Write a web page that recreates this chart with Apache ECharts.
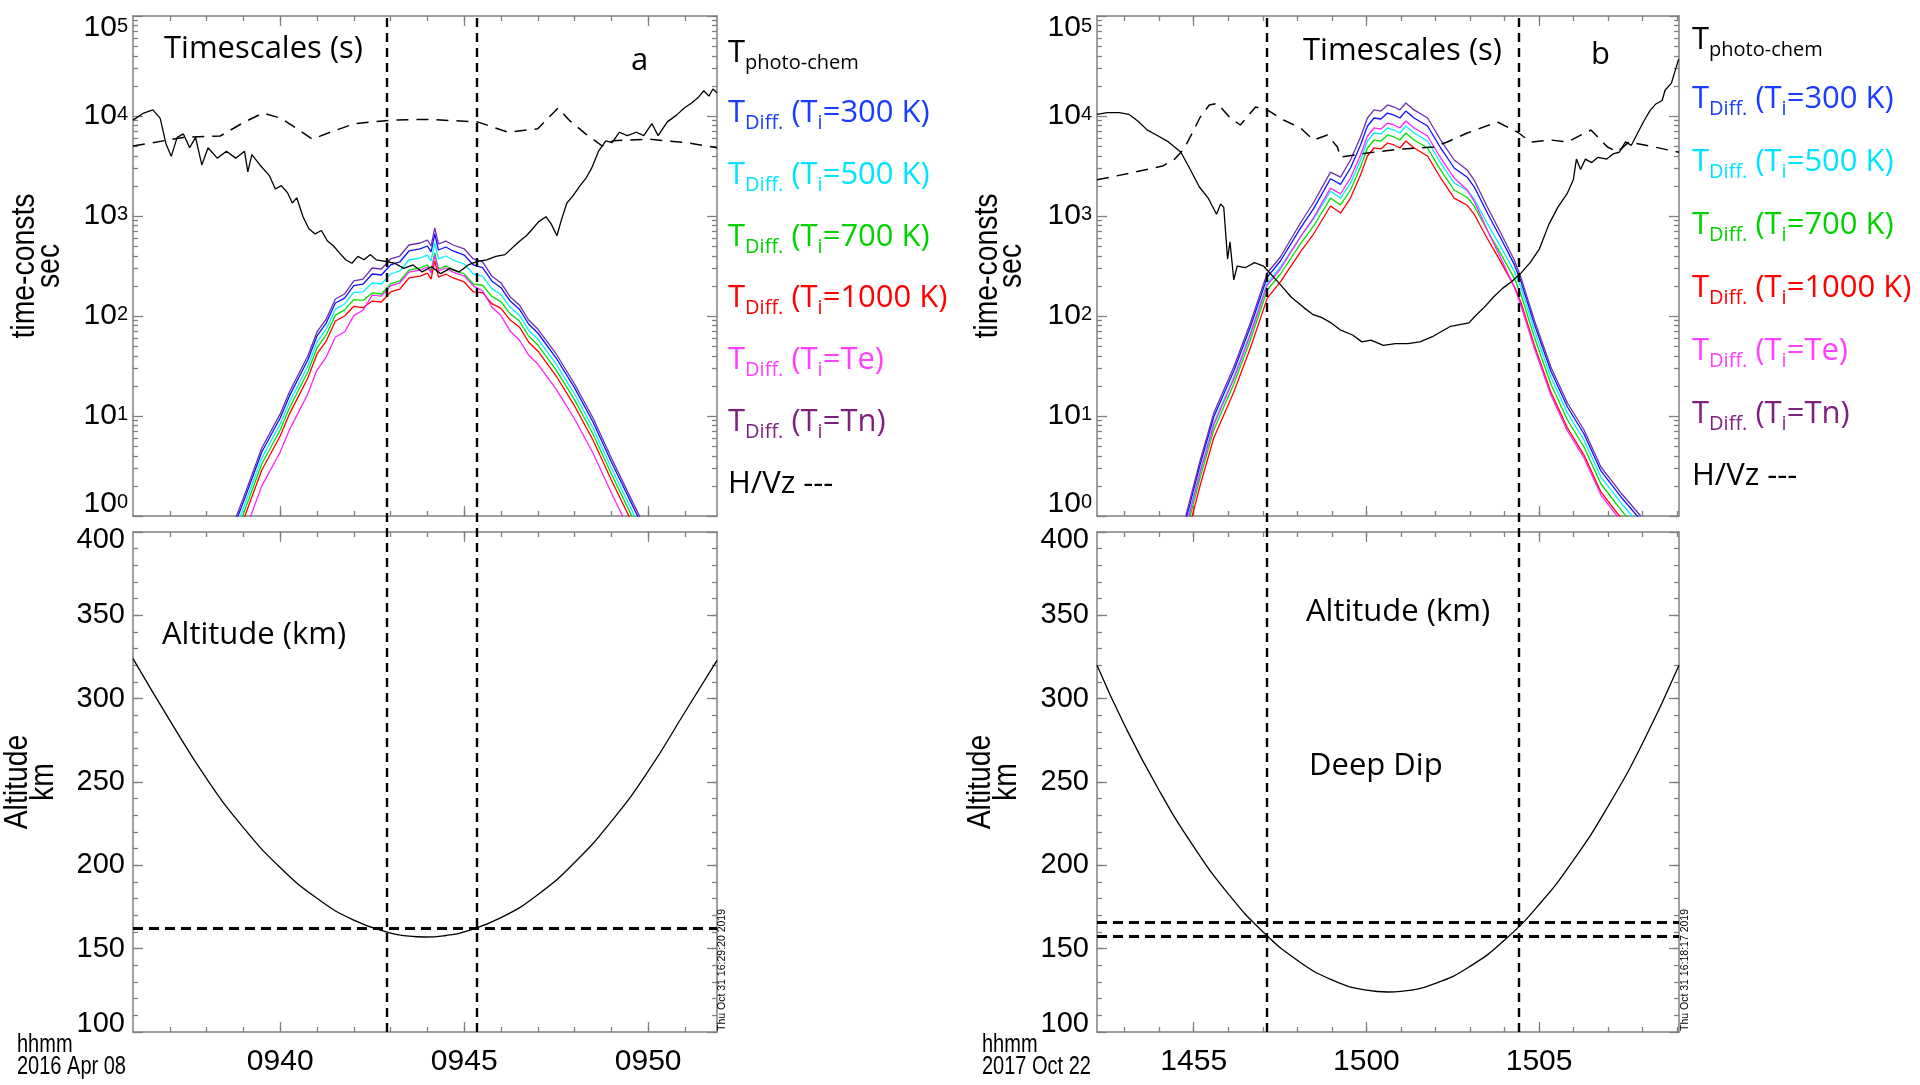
<!DOCTYPE html>
<html><head><meta charset="utf-8">
<script src="https://cdn.jsdelivr.net/npm/echarts@6/dist/echarts.min.js"></script>
<style>html,body{margin:0;padding:0;background:#fff;}#c{width:1920px;height:1085px;}</style>
</head><body><div id="c"></div>
<script>
// ---------------- DATA (time in minutes of day) ----------------
// Panel a (2016 Apr 08)
const aRange = [576.0, 591.87];
const aMinorTicks = [577,578,579,580,581,582,583,584,585,586,587,588,589,590,591];
const aMajorTicks = [580,585,590];
const aPhotoTimes = [576.00,576.29,576.54,576.74,576.90,577.04,577.20,577.37,577.54,577.70,577.87,578.04,578.29,578.54,578.79,579.03,579.12,579.23,579.45,579.70,579.87,580.03,580.20,580.33,580.45,580.62,580.78,580.95,581.12,581.28,581.45,581.61,581.78,581.95,582.11,582.28,582.45,582.61,582.86,583.11,583.36,583.61,583.86,584.11,584.36,584.61,584.86,585.11,585.36,585.61,585.86,586.11,586.36,586.52,586.69,586.86,587.02,587.22,587.36,587.52,587.64,587.79,587.95,588.15,588.30,588.46,588.65,588.85,589.02,589.22,589.43,589.68,589.88,590.10,590.27,590.52,590.77,590.98,591.18,591.35,591.51,591.65,591.76,591.87];
const aPhoto = [9100,10700,11500,9460,5210,3950,6110,6620,4820,6110,3240,4820,3790,4450,3790,4450,2760,4110,3240,2550,1860,2010,1710,1350,1520,984,745,662,716,565,501,428,365,337,395,365,411,365,351,337,299,324,276,311,265,299,276,324,351,365,395,411,501,565,635,745,873,984,839,635,910,1350,1580,2010,2360,2990,4450,5650,5420,6880,6360,6880,6360,8400,6360,8730,10200,12000,13500,15200,17900,15800,18600,17100];
const aHVzTimes = [576.00,577.37,578.37,579.03,579.53,580.03,580.53,580.87,581.36,582.03,583.03,584.02,585.36,586.19,587.0,587.55,587.85,588.3,588.75,589.05,590.02,591.02,591.87];
const aHVz = [5010,6110,6310,8710,10700,9460,7160,5870,6880,8400,9100,9250,8730,6880,7450,12000,9100,6620,5010,5650,5870,5420,4820];
const aDiffTimes = [578.6,579.0,579.5,580.0,580.25,580.5,580.75,581.0,581.25,581.5,581.75,582.0,582.25,582.5,582.75,583.0,583.25,583.5,583.8,584.0,584.1,584.2,584.3,584.5,584.7,585.0,585.25,585.5,585.75,586.0,586.25,586.5,586.75,587.0,587.5,588.0,588.5,589.0,589.5,589.9];
const aDiffTn   = [0.63,1.51,4.79,10.5,17.4,26.3,39.8,69.2,93.3,148,166,224,234,302,295,372,398,513,537,575,501,759,525,562,513,468,372,347,251,214,155,129,91.2,74.1,41.7,20.9,9.55,3.8,1.58,0.79];
const aDiff300  = [0.575,1.38,4.37,9.55,15.8,24.0,36.3,63.1,85.1,135,151,201,208,263,257,324,347,447,468,501,437,661,457,490,447,407,324,305,224,192,141,117,83.2,67.6,38.0,19.1,8.71,3.47,1.45,0.72];
const aDiff500  = [0.5,1.2,3.8,8.32,13.8,20.9,31.6,55.0,74.1,117,132,172,174,214,209,263,282,363,380,407,355,537,372,398,363,331,263,251,188,164,122,102,72.4,58.9,33.1,16.6,7.59,3.02,1.26,0.63];
const aDiff700  = [0.437,1.05,3.31,7.24,12.0,18.2,27.5,47.9,64.6,102,115,146,143,170,166,209,224,288,302,324,282,427,295,316,288,263,209,203,157,139,105,89.1,63.1,51.3,28.8,14.5,6.61,2.63,1.1,0.55];
const aDiff1000 = [0.38,0.912,2.88,6.31,10.5,15.8,24.0,41.7,56.2,89.1,100,125,121,141,138,174,186,240,251,269,234,355,245,263,240,219,174,171,133,119,91.0,77.6,55.0,44.7,25.1,12.6,5.75,2.29,0.955,0.48];
const aDiffTe   = [0.263,0.63,2.0,4.37,7.24,11.0,16.6,28.8,38.9,61.7,69.2,101,114,162,158,200,214,275,288,309,269,407,282,302,275,251,200,179,123,101,70.5,57.5,40.7,33.1,18.6,9.33,4.27,1.7,0.71,0.355];
const aAltTimes = [576.0,577,578,579,580,581,582,583,583.5,583.93,584.5,585,586,587,588,589,590,591,591.87];
const aAlt = [324,287,252,222.6,198.7,180.2,167.1,159.3,157.5,157,157.9,160.1,168.6,182.4,201.7,226.4,256.5,292,323];
const aVLines = [582.9, 585.34];
const aHLines = [162];

// Panel b (2017 Oct 22)
const bRange = [892.2, 909.05];
const bMinorTicks = [893,894,895,896,897,898,899,900,901,902,903,904,905,906,907,908,909];
const bMajorTicks = [895,900,905];
const bPhotoTimes = [892.2,892.5,892.85,893.12,893.39,893.65,893.92,894.27,894.63,894.9,895.16,895.43,895.66,895.78,895.87,895.98,896.05,896.16,896.26,896.49,896.76,897.02,897.2,897.47,897.82,898.18,898.44,898.71,898.98,899.24,899.6,899.87,900.13,900.49,900.84,901.2,901.55,901.91,902.17,902.44,902.7,902.97,903.15,903.41,903.68,903.94,904.21,904.48,904.74,905.01,905.28,905.54,905.81,905.99,906.08,906.2,906.34,906.52,906.7,906.96,907.14,907.32,907.5,907.67,907.85,908.03,908.21,908.38,908.56,908.65,908.83,908.92,909.04];
const bPhoto = [10400,10800,10800,10400,8870,7270,6460,5510,4340,2920,1960,1490,1040,1320,1220,371,551,230,316,304,342,316,270,213,155,122,104,96.2,85.3,72.8,64.6,55.1,57.4,50.9,53.0,53.0,55.1,62.1,70.0,78.9,82.0,85.3,100,122,155,189,221,270,342,470,820,1220,1670,2300,3710,2920,3710,3420,3850,3710,4180,4340,5510,5090,6730,8870,11300,13200,14300,18200,21300,27000,37100];
const bHVzTimes = [892.2,893.2,894.1,894.45,894.72,894.98,895.19,895.45,895.68,896.06,896.35,896.79,897.13,897.6,898.09,898.47,898.87,899.16,899.25,900.03,900.99,901.95,902.34,902.92,903.79,904.37,904.76,905.34,905.82,906.5,906.98,907.27,907.6,908.2,909.05];
const bHVz = [2300,2700,3160,3710,4700,7000,9770,12900,13400,9550,8130,12300,11500,9120,7590,5750,6460,4900,3890,4270,4680,4900,5500,6760,8710,6920,5500,5750,5500,7240,4900,4370,5500,5010,4340];
const bDiffTimes = [894.77,895.19,895.58,896.16,896.64,897.13,897.51,898.09,898.48,898.96,899.25,899.54,899.83,900.03,900.22,900.42,900.61,900.8,900.97,901.14,901.38,901.77,902.15,902.54,902.92,903.12,903.5,903.89,904.28,904.47,904.86,905.34,905.82,906.3,906.79,907.37,907.94];
const bDiffTn   = [1.0,3.63,10.7,30.9,85.1,269,389,851,1380,2750,2450,3630,6170,9550,11500,11200,12900,12300,11500,13500,11500,9550,5750,3630,2880,2290,1230,676,363,245,91.2,30.9,13.5,7.24,3.09,1.7,1.0];
const bDiff300  = [0.912,3.31,9.77,28.2,77.6,245,355,755,1200,2360,2070,3020,5130,7940,9550,9330,10700,10200,9550,11200,9550,7940,4790,3020,2440,1960,1070,600,328,224,83.2,28.2,12.3,6.61,2.82,1.55,0.912];
const bDiffTe   = [0.759,2.75,8.13,23.4,64.6,204,295,619,977,1900,1660,2400,4070,6310,7590,7410,8510,8130,7590,8910,7590,6310,3800,2400,1820,1410,724,380,195,129,47.9,16.2,7.08,3.8,1.62,0.891,0.525];
const bDiff500  = [0.794,2.88,8.51,24.5,67.6,214,309,618,944,1770,1510,2140,3630,5620,6760,6610,7590,7240,6760,7940,6760,5620,3390,2140,1800,1480,841,491,280,195,72.4,24.5,10.7,5.75,2.45,1.35,0.794];
const bDiff700  = [0.676,2.45,7.24,20.9,57.5,182,263,526,804,1510,1290,1820,3090,4790,5750,5620,6460,6170,5750,6760,5750,4790,2880,1820,1530,1260,716,418,238,166,61.7,20.9,9.12,4.9,2.09,1.15,0.676];
const bDiff1000 = [0.562,2.04,6.03,17.4,47.9,151,219,438,668,1260,1070,1510,2570,3980,4790,4680,5370,5130,4790,5620,4790,3980,2400,1510,1280,1040,596,348,198,138,51.3,17.4,7.59,4.07,1.74,0.955,0.562];
const bAltTimes = [892.2,893,894,895,896,897,898,899,900,900.63,901,902,903,904,905,906,907,908,909.05];
const bAlt = [320,284,244.9,211.2,182.9,160.2,143,131.3,125.1,124,124.4,129.2,139.4,155.2,176.5,203.3,235.6,273.4,320];
const bVLines = [897.11, 904.42];
const bHLines = [165.7, 157.6];

// Axis tick values
const logMajorTicks = [1,10,100,1000,10000,100000];
const logMinorTicks = [2,3,4,5,6,7,8,9,20,30,40,50,60,70,80,90,200,300,400,500,600,700,800,900,2000,3000,4000,5000,6000,7000,8000,9000,20000,30000,40000,50000,60000,70000,80000,90000];
const altMajorTicks = [100,150,200,250,300,350,400];
const altMinorTicks = [110,120,130,140,150,160,170,180,190,200,210,220,230,240,250,260,270,280,290,300,310,320,330,340,350,360,370,380,390];
const altRange = [100, 400];
const logRange = [1, 100000];

// Texts
const legendRows = [
  {main:'T', sub:'photo-chem', rest:null, color:'#000000'},
  {main:'T', sub:'Diff.', rest:'=300 K)', color:'#1a3cff'},
  {main:'T', sub:'Diff.', rest:'=500 K)', color:'#00e5ff'},
  {main:'T', sub:'Diff.', rest:'=700 K)', color:'#00d200'},
  {main:'T', sub:'Diff.', rest:'=1000 K)', color:'#ff0000'},
  {main:'T', sub:'Diff.', rest:'=Te)', color:'#ff40ff'},
  {main:'T', sub:'Diff.', rest:'=Tn)', color:'#7f1f7f'}
];
const lineColors = {tn:'#6a2fb3', k300:'#1010ff', k500:'#00f0ff', k700:'#00e000', k1000:'#ff0000', te:'#ff22ff', black:'#000000'};

// ---------------- helpers ----------------
function hasFont(name){
  const c = document.createElement('canvas').getContext('2d');
  const s = '0123456789 hhmm Apr Oct';
  c.font = '40px monospace'; const w0 = c.measureText(s).width;
  c.font = '40px "' + name + '", monospace'; const w1 = c.measureText(s).width;
  return Math.abs(w1 - w0) > 0.5;
}
const narrowOK = hasFont('Liberation Sans Narrow');
const TICKF = narrowOK ? '"Liberation Sans Narrow"' : '"Liberation Sans", Arial, sans-serif';
const XLS = narrowOK ? 34 : 30;
const YLS = narrowOK ? 33 : 29;
const LGS = narrowOK ? 33 : 30;
const SANS = '"Liberation Sans", Arial, sans-serif';
const CAL = '"Open Sans", "Noto Sans", sans-serif';
const AX = '#808080';

const hhmm = v => { const h = Math.floor(v/60 + 1e-9); const m = Math.round(v - h*60); return String(h).padStart(2,'0') + String(m).padStart(2,'0'); };
const supFmt = v => '{b|10}{e|' + Math.round(Math.log10(v)) + '}';

function xAxesFor(g, range, minor, major, labels){
  const base = {type:'value', gridIndex:g, min:range[0], max:range[1], splitLine:{show:false}, axisPointer:{show:false}};
  const line = {show:true, onZero:false, lineStyle:{color:AX, width:1.5}};
  const noLine = {show:false, onZero:false};
  const tk = (vals,len) => ({show:true, inside:true, length:len, customValues:vals, lineStyle:{color:AX, width:1.3}});
  return [
    Object.assign({}, base, {position:'bottom', axisLine:line, axisTick:tk(minor,5), axisLabel:{show:false}}),
    Object.assign({}, base, {position:'bottom', axisLine:noLine, axisTick:tk(major,10),
      axisLabel: labels ? {show:true, customValues:major, formatter:hhmm, margin:15, fontFamily:TICKF, fontSize:XLS, color:'#000'} : {show:false}}),
    Object.assign({}, base, {position:'top', axisLine:line, axisTick:tk(minor,5), axisLabel:{show:false}}),
    Object.assign({}, base, {position:'top', axisLine:noLine, axisTick:tk(major,10), axisLabel:{show:false}})
  ];
}
function yAxesFor(g, type, range, minor, major, labelCfg){
  const base = {type:type, gridIndex:g, min:range[0], max:range[1], splitLine:{show:false}, axisPointer:{show:false}};
  if (type === 'log') base.logBase = 10;
  const line = {show:true, onZero:false, lineStyle:{color:AX, width:1.5}};
  const noLine = {show:false, onZero:false};
  const tk = (vals,len) => ({show:true, inside:true, length:len, customValues:vals, lineStyle:{color:AX, width:1.3}});
  return [
    Object.assign({}, base, {position:'left', axisLine:line, axisTick:tk(minor,5), axisLabel:{show:false}}),
    Object.assign({}, base, {position:'left', axisLine:noLine, axisTick:tk(major,10), axisLabel:labelCfg}),
    Object.assign({}, base, {position:'right', axisLine:line, axisTick:tk(minor,5), axisLabel:{show:false}}),
    Object.assign({}, base, {position:'right', axisLine:noLine, axisTick:tk(major,10), axisLabel:{show:false}})
  ];
}
const logLabel = {show:true, customValues:logMajorTicks, formatter:supFmt, margin:5,
  verticalAlignMaxLabel:'top', verticalAlignMinLabel:'bottom',
  rich:{b:{fontFamily:TICKF, fontSize:LGS, lineHeight:24, color:'#000'},
        e:{fontFamily:TICKF, fontSize:20, lineHeight:1, verticalAlign:'top', color:'#000'}}};
const altLabel = {show:true, customValues:altMajorTicks, formatter:v=>String(v), margin:8,
  verticalAlignMaxLabel:'top', verticalAlignMinLabel:'bottom', fontFamily:TICKF, fontSize:YLS, lineHeight:16, color:'#000'};

function ser(g, xs, ys, color, width, dash, z){
  return {type:'line', xAxisIndex:4*g, yAxisIndex:4*g, data:xs.map((x,i)=>[x, ys[i]]),
    symbol:'none', showSymbol:false, smooth:false, clip:true, silent:true, animation:false, z:z||2,
    lineStyle:{color:color, width:width, type:dash||'solid'}};
}
function hLineSeries(g, xs, ys, hl){
  const s = ser(g, xs, ys, '#000', 1.3, null, 3);
  s.smooth = 0.5;
  s.markLine = {symbol:['none','none'], silent:true, animation:false, label:{show:false},
    lineStyle:{color:'#000', width:2.8, type:[10,6]}, data: hl.map(v=>({yAxis:v}))};
  return s;
}
function vLineSeries(xi, yi, x0, vl){
  return {type:'line', xAxisIndex:xi, yAxisIndex:yi, data:[[x0,-5]], symbol:'none', showSymbol:false, silent:true, animation:false,
    lineStyle:{opacity:0}, z:5,
    markLine:{symbol:['none','none'], silent:true, animation:false, label:{show:false},
      lineStyle:{color:'#000', width:2.4, type:[9,6]}, data: vl.map(v=>({xAxis:v}))}};
}

// ---------------- layout ----------------
const grids = [
  {left:133, top:16, width:584, height:500},
  {left:133, top:532, width:584, height:500},
  {left:1097, top:16, width:582, height:500},
  {left:1097, top:532, width:582, height:500},
  {left:133, top:16, width:584, height:1016},
  {left:1097, top:16, width:582, height:1016}
].map(g => Object.assign({containLabel:false, outerBoundsMode:'none', show:false}, g));

let xAxis = [].concat(
  xAxesFor(0, aRange, aMinorTicks, aMajorTicks, false),
  xAxesFor(1, aRange, aMinorTicks, aMajorTicks, true),
  xAxesFor(2, bRange, bMinorTicks, bMajorTicks, false),
  xAxesFor(3, bRange, bMinorTicks, bMajorTicks, true),
  [{type:'value', gridIndex:4, min:aRange[0], max:aRange[1], show:false},
   {type:'value', gridIndex:5, min:bRange[0], max:bRange[1], show:false}]
);
let yAxis = [].concat(
  yAxesFor(0, 'log', logRange, logMinorTicks, logMajorTicks, logLabel),
  yAxesFor(1, 'value', altRange, altMinorTicks, altMajorTicks, altLabel),
  yAxesFor(2, 'log', logRange, logMinorTicks, logMajorTicks, logLabel),
  yAxesFor(3, 'value', altRange, altMinorTicks, altMajorTicks, altLabel),
  [{type:'value', gridIndex:4, min:0, max:1, show:false},
   {type:'value', gridIndex:5, min:0, max:1, show:false}]
);

const C = lineColors;
const series = [
  ser(0, aDiffTimes, aDiff1000, C.k1000, 1.3),
  ser(0, aDiffTimes, aDiff700, C.k700, 1.3),
  ser(0, aDiffTimes, aDiffTe, C.te, 1.3),
  ser(0, aDiffTimes, aDiff500, C.k500, 1.3),
  ser(0, aDiffTimes, aDiff300, C.k300, 1.3),
  ser(0, aDiffTimes, aDiffTn, C.tn, 1.3),
  ser(0, aPhotoTimes, aPhoto, C.black, 1.3, null, 3),
  ser(0, aHVzTimes, aHVz, C.black, 1.5, [12,8], 3),
  hLineSeries(1, aAltTimes, aAlt, aHLines),
  ser(2, bDiffTimes, bDiff1000, C.k1000, 1.3),
  ser(2, bDiffTimes, bDiff700, C.k700, 1.3),
  ser(2, bDiffTimes, bDiff500, C.k500, 1.3),
  ser(2, bDiffTimes, bDiffTe, C.te, 1.3),
  ser(2, bDiffTimes, bDiff300, C.k300, 1.3),
  ser(2, bDiffTimes, bDiffTn, C.tn, 1.3),
  ser(2, bPhotoTimes, bPhoto, C.black, 1.3, null, 3),
  ser(2, bHVzTimes, bHVz, C.black, 1.5, [12,8], 3),
  hLineSeries(3, bAltTimes, bAlt, bHLines),
  vLineSeries(16, 16, aRange[0], aVLines),
  vLineSeries(17, 17, bRange[0], bVLines)
];

// ---------------- graphic texts ----------------
const graphic = [];
function txt(text, x, y, opt){
  opt = opt || {};
  graphic.push({type:'text', x:x, y:y, rotation:opt.rot||0, scaleX:opt.sx||1, silent:true, z:10,
    style:{text:text, fill:opt.color||'#000', font:(opt.weight||'normal')+' '+(opt.size||31)+'px '+(opt.family||CAL),
      align:opt.align||'left', verticalAlign:opt.va||'middle'}});
}
function legend(x, ys, hvzY){
  legendRows.forEach((r, i) => {
    const rich = {T:{fontFamily:CAL, fontSize:31, lineHeight:40, fill:r.color},
                  s:{fontFamily:CAL, fontSize:20, lineHeight:20, verticalAlign:'bottom', fill:r.color}};
    let t = '{T|' + r.main + '}{s|' + r.sub + '}';
    if (r.rest) t += '{T| (T}{s|i}{T|' + r.rest + '}';
    graphic.push({type:'text', x:x, y:ys[i], silent:true, z:10, style:{text:t, rich:rich, align:'left', verticalAlign:'middle'}});
  });
  txt('H/Vz ---', x, hvzY, {});
}
const TT = {rot:Math.PI/2, align:'center', family:SANS, size:33, sx:0.86};
const DT = {family:SANS, size:25, sx:0.8};
// Panel a
txt('Timescales (s)', 164, 49);
txt('a', 631, 61);
txt('Altitude (km)', 162, 635);
legend(728, [53,113,175,237,298,360,422], 484);
txt('time-consts', 25, 266, TT);
txt('sec', 50, 266, TT);
txt('Altitude', 18, 782, TT);
txt('km', 44, 782, TT);
txt('hhmm', 17, 1045, DT);
txt('2016 Apr 08', 17, 1067, DT);
txt('Thu Oct 31 16:29:20 2019', 722, 1031, {rot:Math.PI/2, family:SANS, size:10.5});
// Panel b
txt('Timescales (s)', 1303, 51);
txt('b', 1591, 55);
txt('Altitude (km)', 1306, 612);
txt('Deep Dip', 1309, 766);
legend(1692, [40,99,162,225,288,351,414], 476);
txt('time-consts', 988, 266, TT);
txt('sec', 1012, 266, TT);
txt('Altitude', 981, 782, TT);
txt('km', 1007, 782, TT);
txt('hhmm', 982, 1045, DT);
txt('2017 Oct 22', 982, 1067, DT);
txt('Thu Oct 31 16:18:17 2019', 1685, 1031, {rot:Math.PI/2, family:SANS, size:10.5});

const chart = echarts.init(document.getElementById('c'), null, {renderer:'canvas', width:1920, height:1085});
chart.setOption({backgroundColor:'#ffffff', animation:false, grid:grids, xAxis:xAxis, yAxis:yAxis, series:series, graphic:graphic});
</script></body></html>
